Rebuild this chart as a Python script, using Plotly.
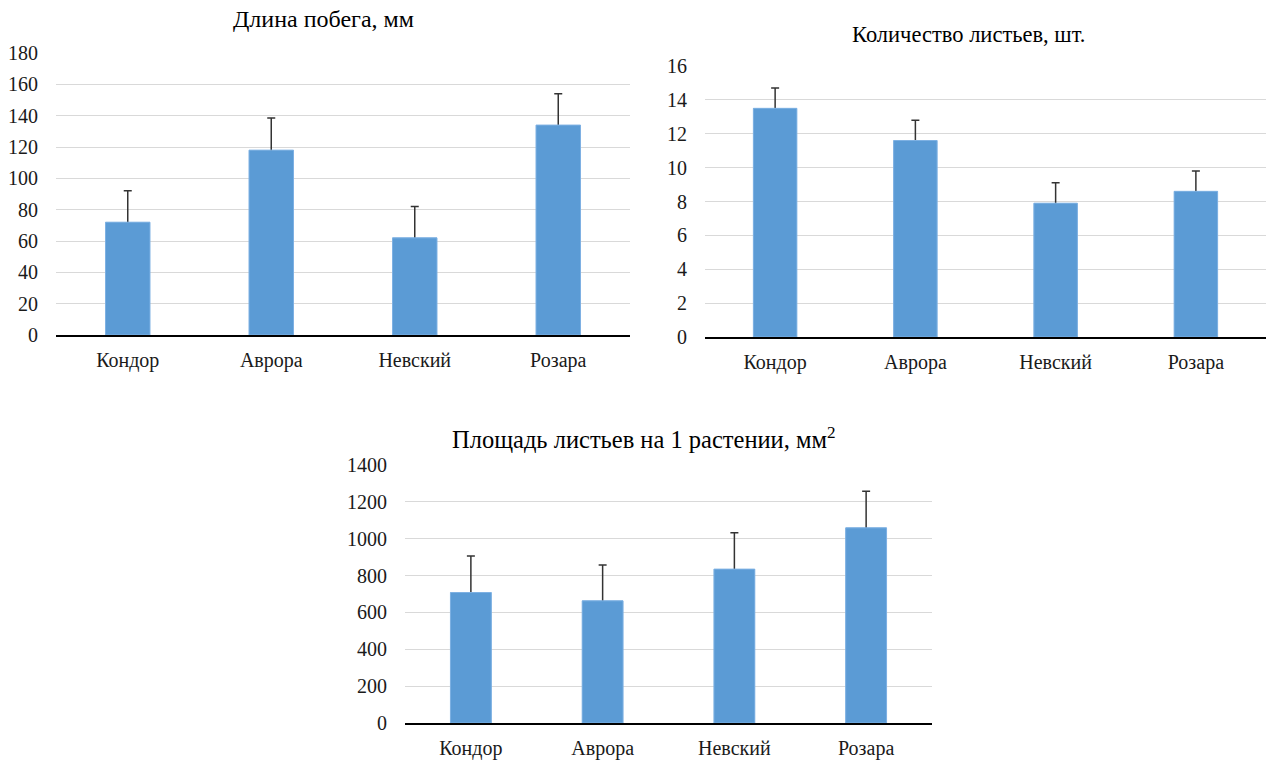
import plotly.graph_objects as go

categories = ["Кондор", "Аврора", "Невский", "Розара"]

shoot_length = [72, 118, 62, 134]
shoot_length_err = [20, 20.5, 20, 20]

leaf_count = [13.5, 11.6, 7.9, 8.6]
leaf_count_err = [1.2, 1.2, 1.2, 1.2]

leaf_area = [708, 663, 835, 1059]
leaf_area_err = [198, 194, 198, 198]

titles = ["Длина побега, мм", "Количество листьев, шт.", "Площадь листьев на 1 растении, мм<sup>2</sup>"]

W, H = 1270, 761
FONT = "Liberation Serif, Times New Roman, serif"
BAR = "#5b9bd5"
TXT = "#1a1a1a"

fig = go.Figure()

panels = [
    dict(vals=shoot_length, err=shoot_length_err, x=(56, 630), y=(53, 335), rng=180, dt=20, xa="x", ya="y"),
    dict(vals=leaf_count, err=leaf_count_err, x=(705, 1266), y=(66, 337), rng=16, dt=2, xa="x2", ya="y2"),
    dict(vals=leaf_area, err=leaf_area_err, x=(405, 932), y=(465, 723), rng=1400, dt=200, xa="x3", ya="y3"),
]

for p in panels:
    # error bars (lower half hidden behind the bar drawn on top)
    fig.add_trace(go.Bar(
        x=categories, y=p["vals"], xaxis=p["xa"], yaxis=p["ya"],
        marker=dict(color=BAR, line=dict(width=0)),
        width=0.31,
        error_y=dict(type="data", symmetric=True, array=p["err"],
                     color="#333333", thickness=1.5, width=4),
        showlegend=False, hoverinfo="skip",
    ))
    fig.add_trace(go.Bar(
        x=categories, y=p["vals"], xaxis=p["xa"], yaxis=p["ya"],
        marker=dict(color=BAR, line=dict(color="#7eb1e3", width=1)),
        width=0.31, showlegend=False,
    ))

layout = dict(
    width=W, height=H, margin=dict(l=0, r=0, t=0, b=0, autoexpand=False),
    paper_bgcolor="white", plot_bgcolor="white",
    font=dict(family=FONT, size=20, color=TXT),
    barmode="overlay",
)

for i, p in enumerate(panels):
    suffix = "" if i == 0 else str(i + 1)
    x0, x1 = p["x"]
    yt, yb = p["y"]
    layout["xaxis" + suffix] = dict(
        domain=[x0 / W, x1 / W], anchor=p["xa"].replace("x", "y"),
        showgrid=False, showline=True, linecolor="#000000", linewidth=1.5,
        ticks="", tickfont=dict(family=FONT, size=20, color=TXT),
        ticklabelstandoff=6, fixedrange=True, automargin=False,
    )
    layout["yaxis" + suffix] = dict(
        domain=[1 - yb / H, 1 - yt / H], anchor=p["xa"],
        range=[0, p["rng"]], dtick=p["dt"], tick0=0,
        showgrid=True, gridcolor="#d9d9d9", gridwidth=1.2,
        showline=False, zeroline=False, ticks="",
        tickfont=dict(family=FONT, size=20, color=TXT),
        ticklabelstandoff=17, fixedrange=True, automargin=False,
    )

fig.update_layout(**layout)

title_pos = [(323, 19, 24), (969, 35, 22.5), (644, 438, 24.5)]
for t, (cx, cy, fs) in zip(titles, title_pos):
    fig.add_annotation(text=t, x=cx / W, y=1 - cy / H, xref="paper", yref="paper",
                       showarrow=False, xanchor="center", yanchor="middle",
                       font=dict(family=FONT, size=fs, color="#000000"))

fig.write_html("out.html", config={"displayModeBar": False},
               post_script="document.body.style.margin='0';document.body.style.overflow='hidden';")
